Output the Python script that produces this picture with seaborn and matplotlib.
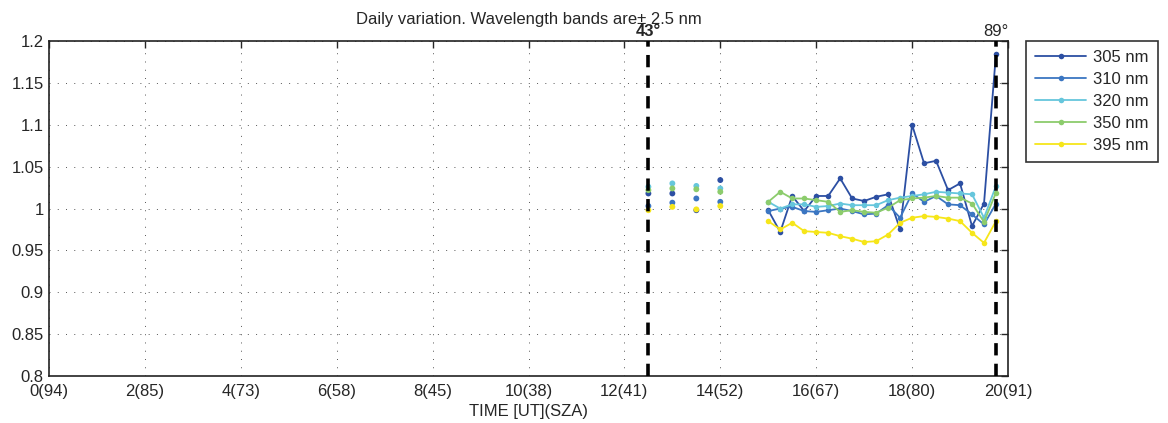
import numpy as np
import pandas as pd
import matplotlib
matplotlib.use("Agg")
import matplotlib.pyplot as plt
import seaborn as sns

# Scattered early measurements (hours UT)
early_time = [12.5, 13.0, 13.5, 14.0]
early_305 = [1.018, 1.018, 0.998, 1.034]
early_310 = [1.003, 1.007, 1.012, 1.008]
early_320 = [1.026, 1.030, 1.027, 1.024]
early_350 = [1.022, 1.024, 1.023, 1.020]
early_395 = [0.998, 1.002, 0.999, 1.003]

# Continuous afternoon series
late_time = [15.0, 15.25, 15.5, 15.75, 16.0, 16.25, 16.5, 16.75, 17.0, 17.25,
             17.5, 17.75, 18.0, 18.25, 18.5, 18.75, 19.0, 19.25, 19.5, 19.75]
late_305 = [0.998, 0.972, 1.015, 0.997, 1.015, 1.015, 1.036, 1.012, 1.009, 1.014,
            1.017, 0.975, 1.100, 1.054, 1.057, 1.022, 1.030, 0.979, 1.006, 1.185]
late_310 = [0.997, 1.000, 1.002, 0.997, 0.996, 0.998, 1.000, 0.997, 0.993, 0.994,
            1.004, 0.989, 1.018, 1.008, 1.015, 1.005, 1.004, 0.993, 0.981, 1.006]
late_320 = [1.008, 1.000, 1.005, 1.005, 1.002, 1.003, 1.006, 1.004, 1.004, 1.004,
            1.010, 1.013, 1.015, 1.017, 1.020, 1.019, 1.018, 1.017, 0.989, 1.027]
late_350 = [1.008, 1.020, 1.012, 1.012, 1.010, 1.008, 0.996, 0.998, 0.996, 0.995,
            1.001, 1.010, 1.012, 1.013, 1.015, 1.013, 1.013, 1.006, 0.984, 1.019]
late_395 = [0.985, 0.975, 0.983, 0.973, 0.972, 0.971, 0.967, 0.964, 0.960, 0.961,
            0.969, 0.983, 0.989, 0.991, 0.990, 0.988, 0.985, 0.971, 0.959, 0.985]

bands = ["305 nm", "310 nm", "320 nm", "350 nm", "395 nm"]
colors = ["#2c4fa3", "#3b76c2", "#66c6dc", "#8ccc6c", "#f6e61a"]

xticks = [0, 2, 4, 6, 8, 10, 12, 14, 16, 18, 20]
xticklabels = ["0(94)", "2(85)", "4(73)", "6(58)", "8(45)", "10(38)",
               "12(41)", "14(52)", "16(67)", "18(80)", "20(91)"]
yticks = [0.8, 0.85, 0.9, 0.95, 1.0, 1.05, 1.1, 1.15, 1.2]
yticklabels = ["0.8", "0.85", "0.9", "0.95", "1", "1.05", "1.1", "1.15", "1.2"]

sza_marks = [12.5, 19.75]
sza_labels = ["43°", "89°"]

early = pd.DataFrame({"time": early_time, "305 nm": early_305, "310 nm": early_310,
                      "320 nm": early_320, "350 nm": early_350, "395 nm": early_395})
late = pd.DataFrame({"time": late_time, "305 nm": late_305, "310 nm": late_310,
                     "320 nm": late_320, "350 nm": late_350, "395 nm": late_395})
early_long = early.melt(id_vars="time", var_name="band", value_name="ratio")
late_long = late.melt(id_vars="time", var_name="band", value_name="ratio")

sns.set_style("white")
plt.rcParams["font.family"] = ["Liberation Sans", "DejaVu Sans"]
plt.rcParams["font.size"] = 12

fig = plt.figure(figsize=(11.68, 4.23), dpi=100)
ax = fig.add_axes([0.042, 0.111, 0.821, 0.792])

palette = dict(zip(bands, colors))

sns.lineplot(data=late_long, x="time", y="ratio", hue="band", hue_order=bands,
             palette=palette, marker="o", markersize=4, markeredgewidth=0,
             linewidth=1.3, ax=ax, legend=True)
sns.scatterplot(data=early_long, x="time", y="ratio", hue="band", hue_order=bands,
                palette=palette, s=18, linewidth=0, ax=ax, legend=False)

for xm in sza_marks:
    ax.plot([xm, xm], [0.8, 1.2], color="black", linestyle=(0, (3.4, 2.3)),
            linewidth=2.6, zorder=5)
weights = ["bold", "normal"]
for xm, lab, w in zip(sza_marks, sza_labels, weights):
    ax.text(xm, 1.203, lab, ha="center", va="bottom", fontsize=12, fontweight=w)

ax.set_xlim(0, 20)
ax.set_ylim(0.8, 1.2)
ax.set_xticks(xticks)
ax.set_xticklabels(xticklabels)
ax.set_yticks(yticks)
ax.set_yticklabels(yticklabels)
ax.set_xlabel("TIME [UT](SZA)", labelpad=3)
ax.set_ylabel("")
ax.set_title("Daily variation. Wavelength bands are± 2.5 nm", fontsize=12, pad=12)

ax.grid(True, linestyle=(0, (1, 7.5)), color="#555555", linewidth=0.7)
ax.tick_params(direction="in", length=5, width=1, top=True, right=True)
ax.tick_params(axis="x", pad=6)
ax.tick_params(axis="y", pad=4)
for s in ax.spines.values():
    s.set_color("#222222")
    s.set_linewidth(1.2)

leg = ax.legend(loc="upper left", bbox_to_anchor=(1.019, 1.0), borderaxespad=0,
                frameon=True, fancybox=False, edgecolor="black", fontsize=12,
                handlelength=3.05, handletextpad=0.4, borderpad=0.55,
                labelspacing=0.42)
leg.get_frame().set_linewidth(1.2)
leg.set_title(None)

fig.savefig("out.png", dpi=100)
